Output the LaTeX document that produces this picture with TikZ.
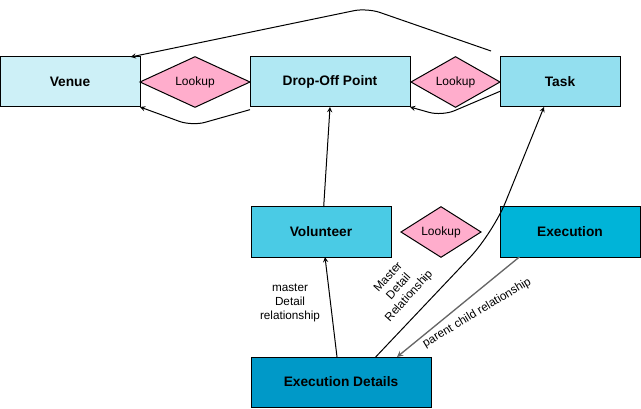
\documentclass[tikz,border=0pt]{standalone}
\usepackage{fontspec}
\setmainfont{Liberation Sans}
\usetikzlibrary{shapes.geometric}
\definecolor{venuefill}{HTML}{CDF0F7}
\definecolor{dropfill}{HTML}{B0E8F3}
\definecolor{taskfill}{HTML}{93DFEF}
\definecolor{volfill}{HTML}{4ACBE5}
\definecolor{execfill}{HTML}{00B4D8}
\definecolor{detailfill}{HTML}{0099C8}
\definecolor{lookupfill}{HTML}{FFADCC}
\definecolor{relgray}{HTML}{666666}
\begin{document}
\begin{tikzpicture}[x=0.75pt, y=-0.75pt, >=stealth, line width=0.75pt]
        \tikzstyle{entity}=[draw, shape=rectangle, minimum height=37.5pt, inner sep=0pt, outer sep=0pt, font=\fontsize{10.3}{12}\selectfont\bfseries]
        \tikzstyle{lookup}=[draw, shape=diamond, minimum height=37.5pt, inner sep=0pt, outer sep=0pt, fill=lookupfill, font=\fontsize{9}{11}\selectfont]
        \tikzstyle{rel}=[align=center, inner sep=0pt, font=\fontsize{8.8}{10.5}\selectfont]

        \useasboundingbox (0,0) rectangle (641,409);

        \node[entity, fill=venuefill, minimum width=105pt](V) at (70, 82){Venue};
        \node[lookup, minimum width=82.5pt](L1) at (195, 82){Lookup};
        \node[entity, fill=dropfill, minimum width=120pt](D) at (330, 82){Drop-Off Point};
        \node[lookup, minimum width=66.75pt](L2) at (455.5, 82){Lookup};
        \node[entity, fill=taskfill, minimum width=90pt](T) at (560, 82){Task};

        \node[entity, fill=volfill, minimum width=105pt](Vol) at (321, 232){Volunteer};
        \node[lookup, minimum width=60pt](L3) at (441, 232){Lookup};
        \node[entity, fill=execfill, minimum width=105pt](E) at (570, 232){Execution};

        \node[entity, fill=detailfill, minimum width=135pt](ED) at (341, 382){Execution Details};

        \draw[->, rounded corners=10] ([shift={(-9,-6)}]T.north west) -- (367, 8) -- ([xshift=-7]V.north east);
        \draw[->, rounded corners=10] ([yshift=-2]D.south west) -- (192, 126) -- (V.south east);
        \draw[->, rounded corners=10] ([yshift=-7]T.west) -- (442, 116) -- (D.south east);

        \draw[->] ([xshift=2]Vol.north) -- (D.south);
        \draw[->] ([xshift=-3]ED.north) -- ([xshift=3]Vol.south);
        \draw[->, rounded corners=25] ([xshift=26]ED.north) -- (493, 233) -- ([xshift=-12]T.south);
        \draw[->, relgray, line width=1pt] ([xshift=-38]E.south) -- ([xshift=42]ED.north);

        \node[rel](r1) at (290, 303){master\\Detail\\relationship};
        \node[rel, rotate=48](r2) at (399, 287){Master\\Detail\\Relationship};
        \node[rel, rotate=31](r3) at (477, 313){parent child relationship};

        \end{tikzpicture}
\end{document}
